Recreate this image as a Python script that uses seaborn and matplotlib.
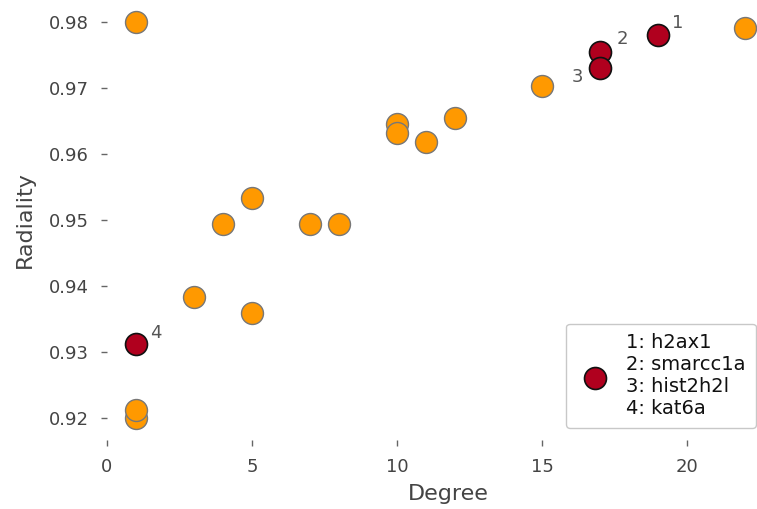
import numpy as np
import pandas as pd
import matplotlib
matplotlib.use("Agg")
import matplotlib.pyplot as plt
import seaborn as sns

# valori
degree_other = [1, 1, 1, 3, 4, 5, 5, 7, 8, 10, 10, 11, 12, 15, 22]
radiality_other = [0.980, 0.9200, 0.9212, 0.9383, 0.9494, 0.9533, 0.9359,
                   0.9494, 0.9494, 0.9645, 0.9632, 0.9618, 0.9655, 0.9703, 0.9791]

degree_top = [19, 17, 17, 1]
radiality_top = [0.9780, 0.9755, 0.9730, 0.9312]
top_ids = ["1", "2", "3", "4"]
top_genes = ["h2ax1", "smarcc1a", "hist2h2l", "kat6a"]

# offset pentru etichete (points)
label_offsets = [(14, 9), (16, 9), (-16, -6), (14, 8)]

df_other = pd.DataFrame({"Degree": degree_other, "Radiality": radiality_other})
df_top = pd.DataFrame({"Degree": degree_top, "Radiality": radiality_top})


def radiality_plot():
    sns.set_style("ticks")
    fig = plt.figure(figsize=(7.57, 5.09), dpi=100)
    ax = fig.add_axes([107 / 757, 69 / 509, (790 - 107) / 757, 440 / 509])

    sns.scatterplot(x="Degree", y="Radiality", data=df_other, ax=ax, s=250,
                    color="#ff9900", edgecolor="#777777", linewidth=1.0, zorder=3)
    legend_label = "\n".join(f"{i}: {g}" for i, g in zip(top_ids, top_genes))
    sns.scatterplot(x="Degree", y="Radiality", data=df_top, ax=ax, s=250,
                    color="#b0001e", edgecolor="#111111", linewidth=1.2, zorder=4,
                    label=legend_label)

    for x, y, t, off in zip(degree_top, radiality_top, top_ids, label_offsets):
        ax.annotate(t, (x, y), xytext=off, textcoords="offset points",
                    ha="center", va="center", fontsize=13, color="#555555")

    ax.set_xlim(0, (790 - 107) / 29)
    ax.set_ylim(0.98 - 418 / 6600, 0.98 + 22 / 6600)
    ax.set_xticks([0, 5, 10, 15, 20])
    ax.set_yticks([0.92, 0.93, 0.94, 0.95, 0.96, 0.97, 0.98])
    ax.tick_params(axis="both", labelsize=13, labelcolor="#444444",
                   color="#666666", length=4, width=1, pad=9)
    sns.despine(ax=ax, left=True, bottom=True)
    ax.set_xlabel("Degree", fontsize=16, color="#444444", labelpad=6)
    ax.set_ylabel("Radiality", fontsize=16, color="#444444", labelpad=10)

    # legenda iese putin din figura, ca in original
    leg = ax.legend(loc="lower left", bbox_to_anchor=(566 / 757, 81 / 509),
                    bbox_transform=fig.transFigure, borderaxespad=0,
                    fontsize=14, frameon=True, handletextpad=0.6,
                    borderpad=0.5, labelspacing=0.3)
    leg.get_frame().set_edgecolor("#bbbbbb")
    for txt in leg.get_texts():
        txt.set_color("#111111")

    fig.savefig("out.png", dpi=100)


def main():
    radiality_plot()


if __name__ == "__main__":
    main()
